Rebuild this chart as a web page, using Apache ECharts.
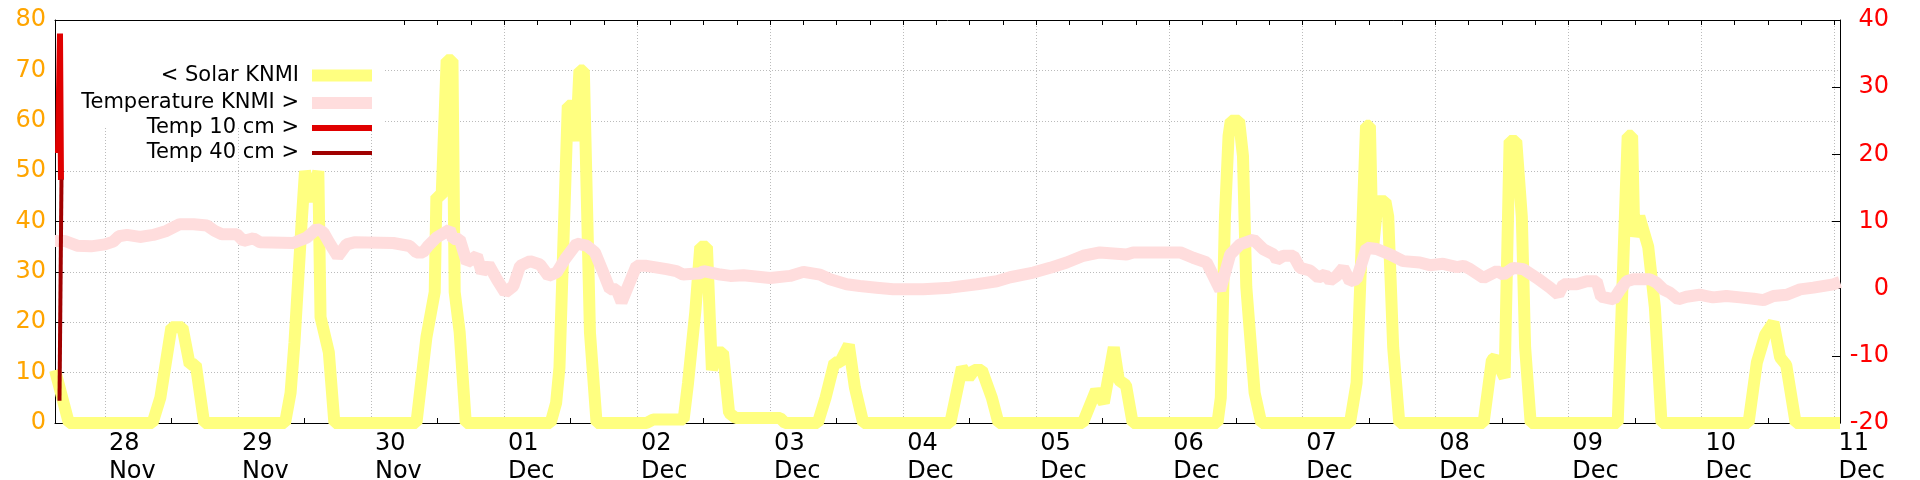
<!DOCTYPE html>
<html>
<head>
<meta charset="utf-8">
<script src="https://cdn.jsdelivr.net/npm/echarts@6.0.0/dist/echarts.min.js"></script>
<style>
  html, body { margin: 0; padding: 0; background: #fff; }
  #chart { width: 1920px; height: 480px; }
</style>
</head>
<body>
<div id="chart"></div>
<script>
// ---- Data (time = hours since 28 Nov 00:00) ----
const dayLabels   = ['28','29','30','01','02','03','04','05','06','07','08','09','10','11'];
const monthLabels = ['Nov','Nov','Nov','Dec','Dec','Dec','Dec','Dec','Dec','Dec','Dec','Dec','Dec','Dec'];
const timeStart = -9;   // 27 Nov 15:00
const timeEnd = 313;    // 11 Dec 01:00

const seriesNames = ['< Solar KNMI', 'Temperature KNMI >', 'Temp 10 cm >', 'Temp 40 cm >'];

// Solar radiation KNMI (left axis)
const solarKNMI = [
  [-9, 10.5], [-6.5, 0],
  [8.6, 0], [10, 5], [11, 12], [12, 19], [14, 19], [15.3, 11.6], [16.4, 11.6], [17.9, 0],
  [32.5, 0], [33.5, 6], [34.2, 16], [35.5, 40], [36.1, 50], [37.3, 44], [38.5, 50], [38.9, 21], [40.4, 14], [41.4, 0],
  [56.2, 0], [58, 17], [59.5, 26], [59.8, 45], [60.75, 45], [61.65, 72], [62.7, 72], [63.1, 26], [64, 18], [65.1, 0],
  [80.4, 0], [81.4, 4], [82, 11], [83.5, 63], [84.2, 63], [85.0, 56], [85.6, 70], [86.4, 70], [87.5, 18], [88.7, 0],
  [97.7, 0], [98.9, 0.7], [104.4, 0.7], [105.2, 8], [106.5, 22], [107.4, 35], [108.6, 35], [109.5, 10.5], [110.2, 14], [111.5, 14], [112.6, 2], [113.8, 1], [121.8, 1], [122.7, 0],
  [128.6, 0], [130, 5], [131.6, 12], [132.6, 12], [134.2, 15.5], [135.3, 7], [136.8, 0],
  [152.5, 0], [154.6, 11], [155.8, 9], [156.8, 10.5], [158.2, 10.5], [160, 5], [161.2, 0],
  [176.4, 0], [178.8, 6.5], [180.2, 4], [182, 15], [182.9, 8.5], [184.2, 7.5], [185.4, 0],
  [200.7, 0], [201.3, 5], [202.05, 41], [202.7, 57], [203.1, 60], [204.6, 60], [205.3, 53], [205.9, 27], [207.4, 6], [208.6, 0],
  [224.6, 0], [225.8, 8], [226.7, 35], [227.5, 59], [228.2, 59], [228.7, 34], [229.6, 44], [231, 44], [231.5, 41], [232.4, 15], [233.5, 0],
  [248.7, 0], [250.2, 12.5], [250.8, 13], [252.5, 9], [253.4, 56], [254.6, 56], [255.6, 41], [256.2, 15], [257.2, 0],
  [272.9, 0], [274.7, 57], [275.5, 57], [275.9, 37], [276.8, 41], [278.4, 35], [279.6, 23], [280.8, 0],
  [296.5, 0], [298, 12], [299.5, 17.5], [301, 20], [302.2, 13], [303.3, 11.5], [305, 0],
  [313, 0]
];

// Air temperature KNMI (right axis)
const temperatureKNMI = [
  [-9, 7.1], [-7.2, 7.1], [-5, 6.4], [-2.5, 6.3], [0, 6.6], [1.5, 7.0], [2.5, 7.8], [4, 8.0], [6.3, 7.7], [8.7, 8.0],
  [11.1, 8.6], [13.5, 9.6], [16, 9.6], [18.4, 9.4], [19.8, 8.6], [21.1, 8.1], [23.8, 8.1], [25, 7.1], [26.8, 7.5], [28, 6.9],
  [34, 6.8], [36.4, 7.6], [38.2, 8.9], [39.4, 8.4], [40.5, 6.8], [42, 4.8], [43.6, 6.6], [45, 6.9], [52, 6.8],
  [55, 6.35], [56.2, 5.4], [57.4, 5.4], [58.3, 6.35], [59.8, 7.6], [62.2, 8.8], [62.8, 7.4], [64, 7.4], [65.3, 3.9], [67.1, 4.9],
  [68, 2.4], [69.2, 3.6], [70.7, 1.4], [72.2, -0.6], [73.7, 0.4], [74.9, 3.4], [76.7, 4.1], [78.5, 3.6], [80, 1.9], [81.5, 2.4],
  [83, 4.4], [85.1, 6.7], [86.9, 6.4], [88.4, 5.4], [89.9, 2.4], [91.1, -0.1], [92.3, -0.1], [93.2, -2.0], [95.9, 3.4], [97.7, 3.4],
  [101.3, 2.9], [103.1, 2.6], [104.3, 2.1], [107.4, 2.3],
  [108, 2.6], [111, 2.1], [112.8, 1.9], [115.2, 2.0], [120, 1.6], [123.6, 1.9], [126, 2.5], [129, 2.1], [130.8, 1.4], [133.8, 0.65],
  [136.2, 0.4], [139.2, 0.15], [142.2, -0.1], [147.6, -0.1], [152.5, 0.15], [157.3, 0.65], [160.9, 1.1],
  [163.3, 1.7], [167.5, 2.4], [170.5, 3.1], [173.5, 3.9], [176.5, 4.9], [179.5, 5.4], [184.3, 5.1], [185.5, 5.4], [194, 5.4],
  [196.3, 4.6], [198.75, 3.9], [201.2, -0.2], [203, 5.1], [204.8, 6.6], [207.2, 7.3], [209, 5.85], [210.8, 5.1], [211.4, 4.3],
  [212.6, 4.9], [214.4, 4.9], [215.6, 3.1], [217.4, 2.7],
  [218.9, 1.64], [220.1, 2.1], [221, 1.2], [222.2, 1.9], [223.4, 3.1], [224.6, 1.1], [225.8, 1.4], [227.6, 6.1], [229.4, 5.9],
  [231.8, 5.1], [234.2, 4.1], [237.2, 3.9], [239, 3.5], [241.4, 3.7], [243.9, 3.2], [245.1, 3.4], [246.3, 2.9], [248.7, 1.6],
  [251.1, 2.6], [252.3, 2.1], [254.1, 3.1], [255.9, 2.9], [258.3, 1.6], [260.7, 0.15], [262.2, -0.9], [263.1, 0.65], [265.5, 0.65],
  [267.3, 1.1], [269.1, 1.1],
  [269.9, -1.2], [272.2, -1.6], [273.2, -0.3], [274.5, 1.1], [275.7, 1.4], [278.7, 1.4], [279.9, 0.9], [281.1, -0.1], [282.3, -0.6],
  [283.8, -1.6], [285.3, -1.2], [287.7, -0.9], [288.9, -1.1], [290.1, -1.3], [292.5, -1.1], [295, -1.3], [297.4, -1.5], [299.2, -1.7],
  [301, -1.1], [303.4, -0.9], [305.8, -0.1], [308.2, 0.15], [311.8, 0.65], [313, 1.0]
];

// Soil temperatures (right axis), only a few samples at the start
const temp10cm = [[-8.46, 20.2], [-8.1, 38.0], [-7.92, 16.2]];
const temp40cm = [[-8.19, -16.7], [-7.83, 16.3]];

// ---- Build chart ----
const FONT = 'DejaVu Sans';
// hourly slots of the time axis (used only for ticks / labels / grid lines)
const hourSlots = [];
for (let t = timeStart; t <= timeEnd; t++) hourSlots.push(String(t));
const isSixHour = (idx, val) => Number(val) % 6 === 0;
const isMidnight = (idx, val) => Number(val) >= 0 && Number(val) % 24 === 0;

const legendTops = [65, 92.5, 117.5, 142.5];
const legendThickness = [12, 12, 6, 4];
const colors = ['#ffff80', '#ffdddd', '#e00000', '#a00000'];
const widths = [12, 12, 6, 4];
const dataSets = [solarKNMI, temperatureKNMI, temp10cm, temp40cm];
const yIdx = [0, 1, 1, 1];
const gridLineStyle = { color: '#bbbbbb', width: 1, type: [1, 2] };

const chart = echarts.init(document.getElementById('chart'), null, { renderer: 'canvas' });

const option = {
  animation: false,
  backgroundColor: '#ffffff',
  textStyle: { fontFamily: FONT },
  grid: { left: 55, top: 20, width: 1785, height: 403, containLabel: false, outerBoundsMode: 'none', show: false },
  graphic: [{
    type: 'rect', left: 56, top: 21, z: 1, silent: true,
    shape: { width: 329, height: 107 },
    style: { fill: '#ffffff' }
  }],
  legend: seriesNames.map((name, i) => ({
    data: [name],
    orient: 'vertical',
    align: 'right',
    right: 1548,
    top: legendTops[i],
    padding: 0,
    itemWidth: 60,
    itemHeight: legendThickness[i],
    icon: 'rect',
    selectedMode: false,
    itemStyle: { borderWidth: 0 },
    textStyle: { fontSize: 21, fontFamily: FONT, color: '#000', padding: [0, 8, 0, 0] }
  })),
  xAxis: [
    { // numeric time axis used by the series
      type: 'value', position: 'bottom', min: timeStart, max: timeEnd, show: false,
      splitLine: { show: false }
    },
    { // bottom: 6-hour ticks, daily labels and daily grid lines
      type: 'category', position: 'bottom', data: hourSlots, boundaryGap: false,
      axisLine: { show: true, onZero: false, lineStyle: { color: '#000', width: 1 } },
      axisTick: { show: true, inside: true, length: 5, interval: isSixHour, lineStyle: { color: '#000' } },
      axisLabel: {
        show: true, interval: isMidnight, align: 'left', padding: [0, 0, 0, 4], margin: 7,
        fontSize: 24, lineHeight: 28, color: '#000', fontFamily: FONT,
        formatter: (v) => { const i = Math.round(Number(v) / 24); return dayLabels[i] + '\n' + monthLabels[i]; }
      },
      splitLine: { show: true, interval: isMidnight, lineStyle: gridLineStyle }
    },
    { // top: mirrored 6-hour ticks
      type: 'category', position: 'top', data: hourSlots, boundaryGap: false,
      axisLine: { show: true, onZero: false, lineStyle: { color: '#000', width: 1 } },
      axisTick: { show: true, inside: true, length: 5, interval: isSixHour, lineStyle: { color: '#000' } },
      axisLabel: { show: false },
      splitLine: { show: false }
    }
  ],
  yAxis: [
    {
      type: 'value', position: 'left', min: 0, max: 80, interval: 10,
      axisLine: { show: true, onZero: false, lineStyle: { color: '#000', width: 1 } },
      axisTick: { show: true, inside: true, length: 9, lineStyle: { color: '#000' } },
      axisLabel: { color: '#ffa500', fontSize: 24, margin: 9, fontFamily: FONT },
      splitLine: { show: true, showMinLine: false, showMaxLine: false, lineStyle: gridLineStyle }
    },
    {
      type: 'value', position: 'right', min: -20, max: 40, interval: 10,
      axisLine: { show: true, onZero: false, lineStyle: { color: '#000', width: 1 } },
      axisTick: { show: true, inside: true, length: 8, lineStyle: { color: '#000' } },
      axisLabel: { color: '#ff0000', fontSize: 24, margin: 49, align: 'right', fontFamily: FONT },
      splitLine: { show: false }
    }
  ],
  series: seriesNames.map((name, i) => ({
    name: name,
    type: 'line',
    xAxisIndex: 0,
    yAxisIndex: yIdx[i],
    data: dataSets[i],
    symbol: 'none',
    showSymbol: false,
    clip: false,
    silent: true,
    color: colors[i],
    lineStyle: { color: colors[i], width: widths[i] },
    emphasis: { disabled: true },
    z: 2 + i
  }))
};

chart.setOption(option);
</script>
</body>
</html>
